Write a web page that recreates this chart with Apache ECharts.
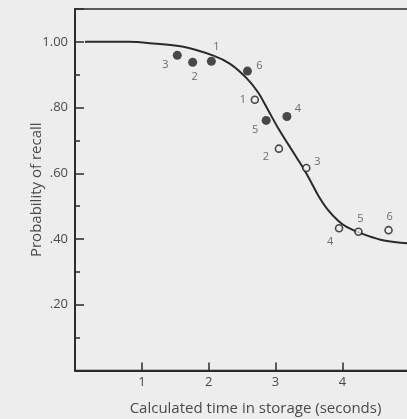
<!DOCTYPE html>
<html>
<head>
<meta charset="utf-8">
<script src="https://cdn.jsdelivr.net/npm/echarts@6/dist/echarts.min.js"></script>
<style>
html,body{margin:0;padding:0;background:#ededed;}
#c{width:407px;height:419px;}
</style>
</head>
<body>
<div id="c"></div>
<script>
// Fitted curve
var curveX = [0.15, 0.8, 1.12, 1.62, 2.07, 2.32, 2.57, 2.74, 2.89, 3.04, 3.19, 3.34, 3.44, 3.54, 3.64, 3.79, 3.94, 4.07, 4.27, 4.57, 4.87, 5.4];
var curveY = [1.0, 1.0, 0.996, 0.985, 0.958, 0.933, 0.889, 0.846, 0.792, 0.737, 0.688, 0.640, 0.607, 0.570, 0.532, 0.487, 0.455, 0.436, 0.418, 0.398, 0.389, 0.380];

// Filled points
var filledX = [2.04, 1.76, 1.53, 3.17, 2.86, 2.58];
var filledY = [0.941, 0.938, 0.959, 0.773, 0.761, 0.911];
var filledLabels = ['1', '2', '3', '4', '5', '6'];

// Open points
var openX = [2.69, 3.05, 3.46, 3.95, 4.24, 4.69];
var openY = [0.824, 0.675, 0.616, 0.433, 0.422, 0.427];
var openLabels = ['1', '2', '3', '4', '5', '6'];

var yTickLabels = {'1': '1.00', '0.8': '.80', '0.6': '.60', '0.4': '.40', '0.2': '.20'};
var xTickLabels = ['1', '2', '3', '4'];

// label offsets (layout only)
var filledOffsets = [[5, -14], [2, 15], [-12, 10], [11, -8], [-11, 9], [12, -5]];
var openOffsets = [[-12, 0], [-13, 8], [11, -6], [-9, 14], [2, -13], [1, -13]];

function pts(xs, ys) { return xs.map(function (x, i) { return [x, ys[i]]; }); }

var ink = '#2a2a2a';
var txt = '#4a4a4a';
var font = 'Open Sans';

function labeled(xs, ys, labels, offs) {
  return xs.map(function (x, i) {
    return {
      value: [x, ys[i]],
      label: { show: true, formatter: labels[i], offset: offs[i], position: 'inside',
        color: txt, fontSize: 11, fontFamily: font }
    };
  });
}

var chart = echarts.init(document.getElementById('c'), null, { renderer: 'canvas' });
chart.setOption({
  backgroundColor: '#ededed',
  animation: false,
  grid: { left: 75, right: -29, top: 9, bottom: 48.5, show: true, borderColor: ink, borderWidth: 1.6,
    backgroundColor: 'transparent', containLabel: false, outerBoundsMode: 'none' },
  xAxis: {
    type: 'value', min: 0, max: 5.4, interval: 1,
    axisLine: { show: true, lineStyle: { color: ink, width: 1.8 } },
    axisTick: { show: true, inside: true, length: 8, lineStyle: { color: ink, width: 1.5 } },
    axisLabel: { color: txt, fontSize: 13, fontFamily: font, margin: 5,
      formatter: function (v) { var s = String(Math.round(v)); return (v > 0 && xTickLabels.indexOf(s) >= 0 && Math.abs(v - Math.round(v)) < 1e-6) ? s : ''; } },
    splitLine: { show: false },
    name: 'Calculated time in storage (seconds)', nameLocation: 'middle', nameGap: 31, nameMoveOverlap: false,
    nameTextStyle: { color: txt, fontSize: 15, fontFamily: font }
  },
  yAxis: [{
    type: 'value', min: 0, max: 1.1, interval: 0.2,
    axisLine: { show: true, lineStyle: { color: ink, width: 1.8 } },
    axisTick: { show: true, inside: true, length: 9, lineStyle: { color: ink, width: 1.5 } },
    axisLabel: { color: txt, fontSize: 13, fontFamily: font, margin: 7,
      formatter: function (v) { var k = String(Math.round(v * 10) / 10); return yTickLabels[k] || ''; } },
    splitLine: { show: false },
    name: 'Probability of recall', nameLocation: 'middle', nameGap: 31, nameMoveOverlap: false,
    nameTextStyle: { color: txt, fontSize: 15, fontFamily: font }
  }, {
    type: 'value', min: 0, max: 1.1, interval: 0.1, position: 'left',
    axisLine: { show: false },
    axisTick: { show: true, inside: true, length: 5, lineStyle: { color: ink, width: 1.5 } },
    axisLabel: { show: false },
    splitLine: { show: false }
  }],
  series: [{
    type: 'line', data: pts(curveX, curveY), smooth: 0.3, symbol: 'none',
    lineStyle: { color: ink, width: 2 }, z: 2
  }, {
    type: 'scatter', data: labeled(filledX, filledY, filledLabels, filledOffsets),
    symbol: 'circle', symbolSize: 9,
    itemStyle: { color: '#1e1e1e' }, z: 3
  }, {
    type: 'scatter', data: labeled(openX, openY, openLabels, openOffsets),
    symbol: 'circle', symbolSize: 7,
    itemStyle: { color: '#ededed', borderColor: '#1e1e1e', borderWidth: 1.6 }, z: 3
  }]
});
</script>
</body>
</html>
